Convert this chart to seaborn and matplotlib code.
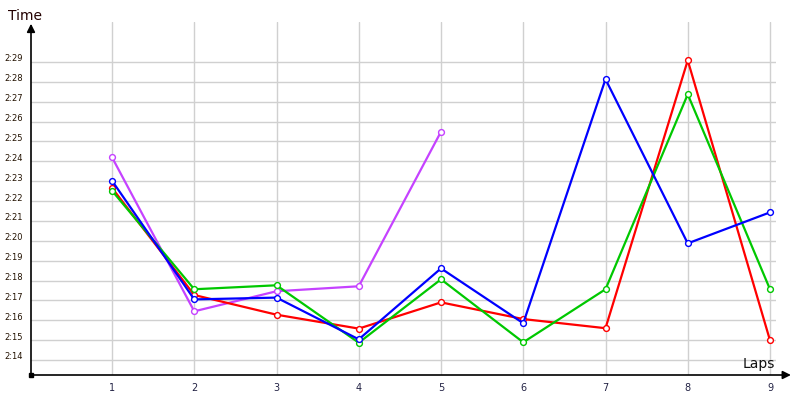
import pandas as pd
import matplotlib.pyplot as plt
import matplotlib.transforms as mtransforms
import seaborn as sns

sns.set_theme(style="white")
plt.rcParams['font.family'] = ['DejaVu Sans']

# lap times in seconds
laps = [1, 2, 3, 4, 5, 6, 7, 8, 9]
red = [142.66, 137.27, 136.28, 135.58, 136.90, 136.06, 135.60, 149.08, 134.99]
green = [142.52, 137.56, 137.76, 134.87, 138.06, 134.89, 137.56, 147.37, 137.56]
blue = [143.02, 137.05, 137.14, 135.04, 138.61, 135.85, 148.13, 139.87, 141.43]
magenta = [144.20, 136.45, 137.46, 137.71, 145.49]

ytick_secs = list(range(134, 150))
ytick_labels = ["%d:%02d" % (s // 60, s % 60) for s in ytick_secs]

series = [
    ("magenta", laps[:5], magenta, "#c542ff"),
    ("red", laps, red, "#ff0000"),
    ("green", laps, green, "#00c800"),
    ("blue", laps, blue, "#0000ff"),
]

fig = plt.figure(figsize=(8, 4), dpi=100)
ax = fig.add_axes([31/800, 25/400, 745/800, 353/400])

for name, x, y, c in series:
    df = pd.DataFrame({"lap": x, "time": y})
    sns.lineplot(data=df, x="lap", y="time", ax=ax, color=c, linewidth=1.6,
                 marker="o", markersize=4.2, markerfacecolor="white",
                 markeredgecolor=c, markeredgewidth=1.0)

ax.set_xlim(0.015, 9.073)
ax.set_ylim(133.245, 151.01)

ax.set_xticks(laps)
ax.set_xticklabels([str(l) for l in laps], fontsize=7, color="#222244")
ax.set_yticks(ytick_secs)
ax.set_yticklabels(ytick_labels, fontsize=6, color="#221100")
ax.tick_params(axis="x", length=0, pad=6)
ax.tick_params(axis="y", length=0, pad=19.4)
off = mtransforms.ScaledTranslation(0, 4/100, fig.dpi_scale_trans)
for lab in ax.get_yticklabels():
    lab.set_horizontalalignment("left")
    lab.set_transform(lab.get_transform() + off)

ax.grid(True, color="#d0d0d0", linewidth=1)
for s in ax.spines.values():
    s.set_visible(False)
ax.set_xlabel("")
ax.set_ylabel("")

# axes with arrow heads
ax.annotate("", xy=(1.02, 0), xytext=(0, 0), xycoords="axes fraction",
            arrowprops=dict(arrowstyle="-|>", color="black", lw=1.2,
                            mutation_scale=12, shrinkA=0, shrinkB=0),
            annotation_clip=False)
ax.annotate("", xy=(0, 0.995), xytext=(0, 0), xycoords="axes fraction",
            arrowprops=dict(arrowstyle="-|>", color="black", lw=1.2,
                            mutation_scale=12, shrinkA=0, shrinkB=0),
            annotation_clip=False)
ax.plot([0], [0], marker="s", markersize=3, color="black",
        transform=ax.transAxes, clip_on=False)

fig.text(8/800, 1 - 16/400, "Time", fontsize=10, va="center", ha="left", color="#220000")
fig.text(775/800, 1 - 364/400, "Laps", fontsize=10, va="center", ha="right", color="#111111")

fig.savefig("out.png", dpi=100)
